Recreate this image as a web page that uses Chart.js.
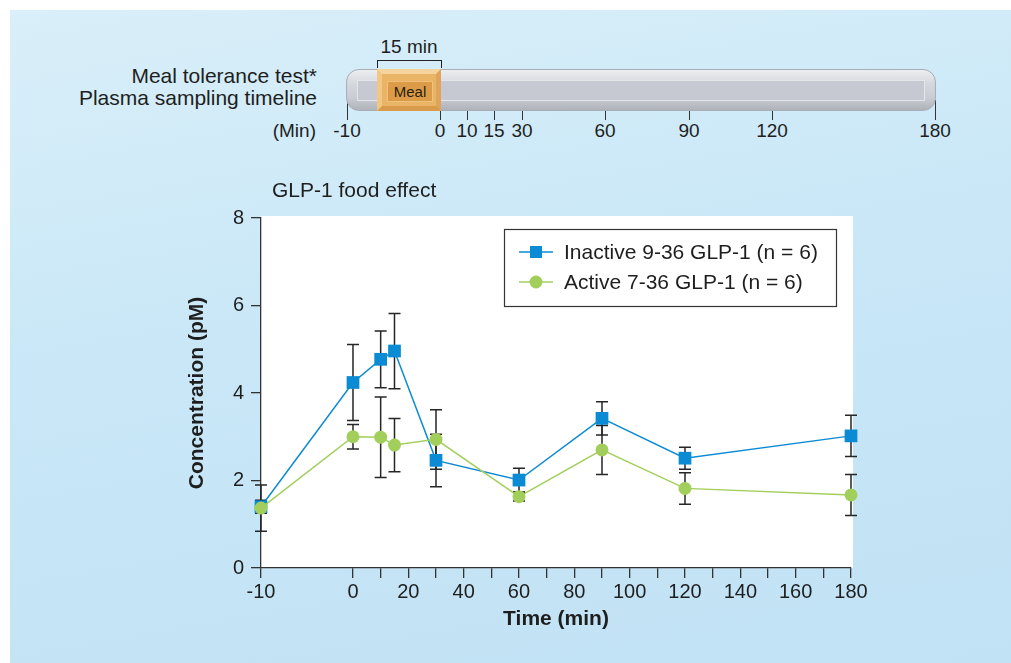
<!DOCTYPE html>
<html>
<head>
<meta charset="utf-8">
<script src="https://cdn.jsdelivr.net/npm/chart.js@4.4.1/dist/chart.umd.min.js"></script>
<style>
  html, body { margin: 0; padding: 0; background: #fff; }
  body { width: 1011px; height: 663px; position: relative; overflow: hidden;
         font-family: "Liberation Sans", Arial, sans-serif; color: #1e1e1e; }
  #bg { position: absolute; left: 10px; top: 10px; right: 0; bottom: 0;
        background: linear-gradient(170deg, #d9eff9 0%, #c9e7f7 45%, #c1e2f5 100%); }
  #chart { position: absolute; left: 0; top: 0; }
  .abs { position: absolute; white-space: nowrap; }
  .tlTick { position: absolute; width: 0; border-left: 1.5px solid #333; top: 100px; height: 20px; }
  .tlLab { position: absolute; top: 120px; width: 60px; margin-left: -30px; text-align: center; font-size: 19px; line-height: 22px; }
</style>
</head>
<body>
<div id="bg"></div>

<!-- timeline strip -->
<div class="abs" style="left:0;width:317px;text-align:right;top:65px;font-size:21px;line-height:22px;">Meal tolerance test*</div>
<div class="abs" style="left:0;width:317px;text-align:right;top:87px;font-size:21px;line-height:22px;">Plasma sampling timeline</div>
<div class="abs" style="left:379px;width:60px;text-align:center;top:36px;font-size:19px;line-height:22px;">15 min</div>
<div class="abs" style="left:377px;top:60px;width:63px;height:7px;border:1.5px solid #222;border-bottom:none;"></div>
<div id="tl"></div>
<div class="abs" style="left:346px;top:69px;width:588px;height:40px;border-radius:13px;border:1px solid #a9adb5;
     background:linear-gradient(to bottom,#eceef1 0%,#d4d7dc 35%,#c9ccd2 70%,#aeb2b9 100%);"></div>
<div class="abs" style="left:357px;top:80px;width:566px;height:19px;background:#c6c9d1;border:1px solid #e4e6ea;"></div>
<div class="abs" style="left:377px;top:69px;width:54px;height:32px;border-style:solid;border-width:5px 5px 5px 5px;
     border-color:#f6d39c #dfa45a #d99a4c #f2c783;background:#eab467;"></div>
<div class="abs" style="left:387px;top:81px;width:44px;height:19px;background:#dc9c47;border:1px solid #f0c07c;
     font-size:15px;line-height:19px;text-align:center;color:#2a1d0c;">Meal</div>
<div class="abs" style="left:0;width:316px;text-align:right;top:120px;font-size:19px;line-height:22px;">(Min)</div>

<canvas id="chart" width="1011" height="663"></canvas>

<script>
// data
var times = [-10, 0, 10, 15, 30, 60, 90, 120, 180];
var inactive = [1.40, 4.24, 4.77, 4.96, 2.46, 2.01, 3.42, 2.51, 3.02];
var inactiveErr = [0.15, 0.87, 0.65, 0.86, 0.60, 0.27, 0.38, 0.25, 0.47];
var active = [1.37, 3.00, 2.99, 2.81, 2.94, 1.63, 2.70, 1.82, 1.67];
var activeErr = [0.53, 0.28, 0.92, 0.61, 0.68, 0.10, 0.56, 0.36, 0.47];

var xTicks = [-10, 0, 10, 20, 30, 40, 50, 60, 70, 80, 90, 100, 110, 120, 130, 140, 150, 160, 170, 180];
var xTickLabels = ['-10', '0', '', '20', '', '40', '', '60', '', '80', '', '100', '', '120', '', '140', '', '160', '', '180'];
var yTicks = [0, 2, 4, 6, 8];

var timelineLabels = ['-10', '0', '10', '15', '30', '60', '90', '120', '180'];
var timelineX = [347, 440, 467, 494, 522, 605, 689, 772, 935];

var legendLabels = ['Inactive 9-36 GLP-1 (n = 6)', 'Active 7-36 GLP-1 (n = 6)'];

var blue = '#0b8bd3';
var green = '#a2cf5c';
var GAP = 3.325; // the -10 sample sits further left than the linear spacing

// timeline ticks
var tl = document.getElementById('tl');
timelineLabels.forEach(function(lab, i) {
    var t = document.createElement('div');
    t.className = 'tlTick';
    t.style.left = timelineX[i] + 'px';
    tl.appendChild(t);
    var l = document.createElement('div');
    l.className = 'tlLab';
    l.style.left = timelineX[i] + 'px';
    l.textContent = lab;
    tl.appendChild(l);
});

function warp(v) { return v < 0 ? v * GAP : v; }

class BrokenLinearScale extends Chart.LinearScale {
    getPixelForValue(value) {
        var a = warp(this.min), b = warp(this.max);
        return this.getPixelForDecimal((warp(value) - a) / (b - a));
    }
}
BrokenLinearScale.id = 'brokenLinear';
BrokenLinearScale.defaults = Chart.LinearScale.defaults;
Chart.register(BrokenLinearScale);

Chart.defaults.font.family = '"Liberation Sans", Arial, sans-serif';
Chart.defaults.color = '#1e1e1e';

var plotBg = {
    id: 'plotBg',
    beforeDraw: function(chart) {
        var a = chart.chartArea, ctx = chart.ctx;
        ctx.save();
        ctx.fillStyle = '#ffffff';
        ctx.fillRect(a.left, a.top - 2, a.right - a.left + 2, a.bottom - a.top + 2);
        ctx.fillStyle = '#1e1e1e';
        ctx.font = '21px "Liberation Sans", Arial, sans-serif';
        ctx.textBaseline = 'middle';
        ctx.fillText('GLP-1 food effect', 272, 191);
        ctx.restore();
    }
};

var errorBars = {
    id: 'errorBars',
    beforeDatasetsDraw: function(chart) {
        var ctx = chart.ctx, xs = chart.scales.x, ys = chart.scales.y;
        var sets = [[inactive, inactiveErr], [active, activeErr]];
        ctx.save();
        ctx.strokeStyle = '#262626';
        ctx.lineWidth = 1.5;
        sets.forEach(function(s) {
            times.forEach(function(t, i) {
                var x = xs.getPixelForValue(t);
                var y1 = ys.getPixelForValue(s[0][i] + s[1][i]);
                var y2 = ys.getPixelForValue(s[0][i] - s[1][i]);
                ctx.beginPath();
                ctx.moveTo(x, y1); ctx.lineTo(x, y2);
                ctx.moveTo(x - 6, y1); ctx.lineTo(x + 6, y1);
                ctx.moveTo(x - 6, y2); ctx.lineTo(x + 6, y2);
                ctx.stroke();
            });
        });
        ctx.restore();
    }
};

var boxLegend = {
    id: 'boxLegend',
    afterDraw: function(chart) {
        var ctx = chart.ctx;
        ctx.save();
        ctx.fillStyle = '#ffffff';
        ctx.fillRect(504, 229, 332, 77);
        ctx.strokeStyle = '#333';
        ctx.lineWidth = 1.2;
        ctx.strokeRect(504.5, 229.5, 332, 77);
        var rows = [252, 282];
        var cols = [blue, green];
        rows.forEach(function(y, i) {
            ctx.strokeStyle = cols[i];
            ctx.lineWidth = 1.5;
            ctx.beginPath();
            ctx.moveTo(519, y); ctx.lineTo(553, y);
            ctx.stroke();
            ctx.fillStyle = cols[i];
            if (i === 0) {
                ctx.fillRect(530, y - 6, 12, 12);
            } else {
                ctx.beginPath();
                ctx.arc(536, y, 6.5, 0, Math.PI * 2);
                ctx.fill();
            }
            ctx.fillStyle = '#1e1e1e';
            ctx.font = '21px "Liberation Sans", Arial, sans-serif';
            ctx.textBaseline = 'middle';
            ctx.fillText(legendLabels[i], 564, y + 1);
        });
        ctx.restore();
    }
};

function points(vals) {
    return times.map(function(t, i) { return { x: t, y: vals[i] }; });
}

var chart = new Chart(document.getElementById('chart').getContext('2d'), {
    type: 'line',
    data: {
        datasets: [{
            label: legendLabels[0],
            data: points(inactive),
            borderColor: blue,
            backgroundColor: blue,
            borderWidth: 1.5,
            pointStyle: 'rect',
            pointRadius: 9,
            pointBorderWidth: 0,
            clip: false,
            order: 1
        }, {
            label: legendLabels[1],
            data: points(active),
            borderColor: green,
            backgroundColor: green,
            borderWidth: 1.5,
            pointStyle: 'circle',
            pointRadius: 6.5,
            pointBorderWidth: 0,
            clip: false,
            order: 0
        }]
    },
    options: {
        responsive: false,
        animation: false,
        events: [],
        layout: { padding: { left: 181, top: 218, right: 160, bottom: 27 } },
        plugins: { legend: { display: false }, tooltip: { enabled: false } },
        scales: {
            x: {
                type: 'brokenLinear',
                min: -10,
                max: 180,
                afterBuildTicks: function(s) { s.ticks = xTicks.map(function(v) { return { value: v }; }); },
                afterFit: function(s) { s.height = 68; },
                grid: { drawOnChartArea: false, drawTicks: true, tickLength: 10, color: '#333', lineWidth: 1.3 },
                border: { color: '#333', width: 1.3 },
                ticks: {
                    autoSkip: false, maxRotation: 0, padding: 2,
                    font: { size: 20 }, color: '#1e1e1e',
                    callback: function(v, i) { return xTickLabels[i]; }
                },
                title: { display: true, text: 'Time (min)', font: { size: 21, weight: 'bold' }, color: '#1e1e1e' }
            },
            y: {
                min: 0,
                max: 8,
                afterBuildTicks: function(s) { s.ticks = yTicks.map(function(v) { return { value: v }; }); },
                afterFit: function(s) { s.width = 80; },
                grid: { drawOnChartArea: false, drawTicks: true, tickLength: 10, color: '#333', lineWidth: 1.3 },
                border: { color: '#333', width: 1.3 },
                ticks: { padding: 7, font: { size: 20 }, color: '#1e1e1e' },
                title: { display: true, text: 'Concentration (pM)', font: { size: 21, weight: 'bold' }, color: '#1e1e1e' }
            }
        }
    },
    plugins: [plotBg, errorBars, boxLegend]
});
</script>
</body>
</html>
